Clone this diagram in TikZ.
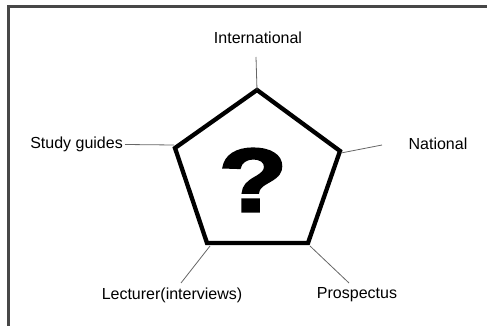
\documentclass[tikz,border=0pt]{standalone}
\usepackage{fontspec}
\setmainfont{Liberation Sans}
\newfontfamily\qfont[FakeBold=2.5]{Liberation Sans Bold}
\begin{document}
\begin{tikzpicture}[x=1pt,y=-1pt,
  lbl/.style={font=\fontsize{16}{19}\selectfont, inner sep=0pt},
  leader/.style={draw=gray!80!black, line width=0.8pt},
  pent/.style={line width=4.3pt, line join=miter},
  frame/.style={draw=black!72, line width=3.2pt}]
\useasboundingbox (0,0) rectangle (487,326);
\draw[frame] (8.8,330) -- (8.8,6.6) -- (490,6.6);
% pentagon vertices
\coordinate (vt) at (257,90);
\coordinate (vr) at (340,151);
\coordinate (vbr) at (308,243);
\coordinate (vbl) at (207,243);
\coordinate (vl) at (175,148);
\draw[pent] (vt) -- (vr) -- (vbr) -- (vbl) -- (vl) -- cycle;
\node (q) at (253,180) {\scalebox{1.25}[1]{\fontsize{90}{92}\qfont ?}};
% labels
\node[lbl] (intl) at (258,38) {International};
\node[lbl, anchor=east] (study) at (123,144) {Study guides};
\node[lbl] (natl) at (438,144) {National};
\node[lbl] (lect) at (172,295) {Lecturer(interviews)};
\node[lbl] (pros) at (357,295) {Prospectus};
% leader ends
\coordinate (eintl) at (256,57);
\coordinate (estudy) at (125,144.5);
\coordinate (enatl) at (382,145);
\coordinate (electl) at (181,283);
\coordinate (epros) at (349,283);
\draw[leader] (vt) -- (eintl);
\draw[leader] (vl) ++(-1,-3) -- (estudy);
\draw[leader] (vr) ++(1,2) -- (enatl);
\draw[leader] (vbl) ++(3,3) -- (electl);
\draw[leader] (vbr) ++(2,3) -- (epros);
\end{tikzpicture}
\end{document}
